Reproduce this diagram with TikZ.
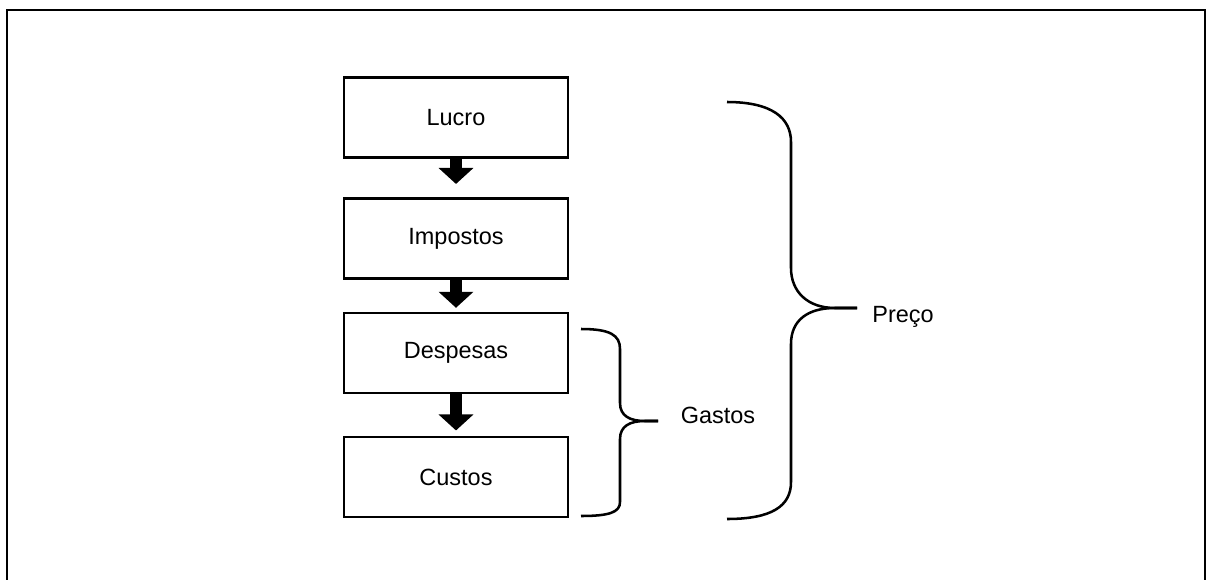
\documentclass[tikz,border=0pt]{standalone}
\usepackage{fontspec}
\setmainfont{Liberation Sans}
\usetikzlibrary{arrows.meta}
\begin{document}
\begin{tikzpicture}[x=0.75pt,y=-0.75pt,main/.style = {draw, line width=1.8pt, minimum width=168pt, minimum height=60pt, font=\fontsize{17.6}{20}\selectfont},label_text/.style={font=\fontsize{17.6}{20}\selectfont},block/.style={line width=9pt, -{Triangle[length=12pt,width=25.5pt]}},brace/.style={line width=1.9pt}] 
        \useasboundingbox (0,0) rectangle (1208,579);
        \draw[line width=2.2pt] (7,595) -- (7,10) -- (1205,10) -- (1205,595);
        \node[main] (1) at (456,117.5) {Lucro};
        \node[main] (2) at (456,238.5) {Impostos};
        \node[main] (3) at (456,353) {Despesas};
        \node[main] (4) at (456,477) {Custos};
        \node[label_text] (5) at (718,415) {Gastos};
        \node[label_text] (6) at (903,317) {Preço};
        \coordinate (gt) at (581,329);
        \coordinate (gb) at (581,516);
        \coordinate (gm) at (658,421);
        \coordinate (pt) at (727,102);
        \coordinate (pb) at (727,519);
        \coordinate (pm) at (857,308);
        \draw[block,shorten >=10pt] (1) -- (2);
        \draw[block,shorten >=3pt] (2) -- (3);
        \draw[block,shorten >=4pt] (3) -- (4);
        \draw[brace] (gt) .. controls (610,329) and (620,335) .. (620,349) -- (620,403) .. controls (620,416) and (630,421) .. (645,421) -- (gm);
        \draw[brace] (gm) -- (645,421) .. controls (630,421) and (620,426) .. (620,439) -- (620,502) .. controls (620,512) and (610,516) .. (gb);
        \draw[brace] (pt) .. controls (772,102) and (791,118) .. (791,142) -- (791,268) .. controls (791,292) and (808,308) .. (835,308) -- (pm);
        \draw[brace] (pm) -- (835,308) .. controls (808,308) and (791,320) .. (791,344) -- (791,482) .. controls (791,506) and (772,519) .. (pb);
    \end{tikzpicture}
\end{document}
